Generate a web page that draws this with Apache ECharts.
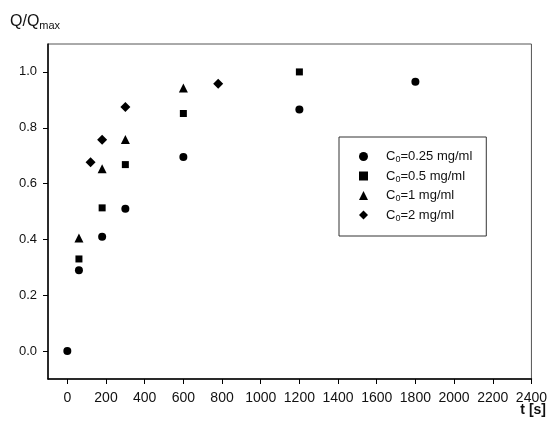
<!DOCTYPE html>
<html>
<head>
<meta charset="utf-8">
<script src="https://cdn.jsdelivr.net/npm/echarts@6/dist/echarts.min.js"></script>
<style>
html,body{margin:0;padding:0;background:#fff;}
#chart{width:550px;height:430px;}
</style>
</head>
<body>
<div id="chart"></div>
<script>
// Data (t in seconds, Q/Qmax)
const seriesNames = ['C0=0.25 mg/ml', 'C0=0.5 mg/ml', 'C0=1 mg/ml', 'C0=2 mg/ml'];
const seriesSymbols = ['circle', 'rect', 'triangle', 'diamond'];
const t025 = [0, 60, 180, 300, 600, 1200, 1800];
const q025 = [0.0, 0.29, 0.41, 0.51, 0.695, 0.865, 0.965];
const t05 = [60, 180, 300, 600, 1200];
const q05 = [0.33, 0.513, 0.668, 0.851, 1.0];
const t1 = [60, 180, 300, 600];
const q1 = [0.405, 0.653, 0.758, 0.942];
const t2 = [120, 180, 300, 780];
const q2 = [0.676, 0.757, 0.874, 0.958];
const xTicks = [0, 200, 400, 600, 800, 1000, 1200, 1400, 1600, 1800, 2000, 2200, 2400];
const yTicks = [0, 0.2, 0.4, 0.6, 0.8, 1.0];

const allT = [t025, t05, t1, t2];
const allQ = [q025, q05, q1, q2];
const symbolSizes = [8, 7, 9, 10];

const chart = echarts.init(document.getElementById('chart'), null, {renderer: 'canvas'});
const font = '"Liberation Sans", Arial, Helvetica, sans-serif';

const series = seriesNames.map((name, i) => ({
  name: name,
  type: 'scatter',
  symbol: seriesSymbols[i],
  symbolSize: symbolSizes[i],
  itemStyle: {color: '#000', opacity: 1},
  emphasis: {disabled: true},
  data: allT[i].map((t, j) => [t, allQ[i][j]])
}));

chart.setOption({
  animation: false,
  backgroundColor: '#fff',
  textStyle: {fontFamily: font},
  grid: {left: 48, right: 18, top: 44, bottom: 51, show: true, borderColor: '#555', borderWidth: 1},
  xAxis: {
    type: 'value',
    min: -100, max: 2400,
    splitLine: {show: false},
    axisLine: {onZero: false, lineStyle: {color: '#000', width: 1.5}},
    axisTick: {show: true, length: 5, inside: false, customValues: xTicks, lineStyle: {color: '#000'}},
    axisLabel: {customValues: xTicks, margin: 12, fontSize: 14, color: '#111', fontFamily: font,
      formatter: v => String(v)}
  },
  yAxis: {
    type: 'value',
    min: -0.1, max: 1.1,
    splitLine: {show: false},
    axisLine: {onZero: false, lineStyle: {color: '#000', width: 1.5}},
    axisTick: {show: true, length: 5, inside: false, customValues: yTicks, lineStyle: {color: '#000'}},
    axisLabel: {customValues: yTicks, margin: 11, fontSize: 13, color: '#111', fontFamily: font,
      formatter: v => v.toFixed(1)}
  },
  legend: {
    orient: 'vertical',
    left: 339, top: 137,
    padding: [13, 14, 13, 20],
    itemGap: 5,
    itemWidth: 9, itemHeight: 9,
    borderColor: '#333', borderWidth: 1,
    backgroundColor: '#fff',
    selectedMode: false,
    data: seriesNames.map((n, i) => ({name: n, icon: seriesSymbols[i]})),
    formatter: n => '{c|C}{s|0}{c|' + n.slice(2) + '}',
    textStyle: {
      padding: [0, 0, 0, 13],
      color: '#111',
      fontFamily: font,
      rich: {
        c: {fontSize: 13, lineHeight: 16, fontFamily: font, color: '#111'},
        s: {fontSize: 9, lineHeight: 10, verticalAlign: 'bottom', fontFamily: font, color: '#111'}
      }
    }
  },
  graphic: [
    {
      type: 'text', left: 10, top: 14,
      style: {
        text: '{q|Q/Q}{m|max}',
        rich: {
          q: {fontSize: 16, fontFamily: font, fill: '#111', lineHeight: 18},
          m: {fontSize: 11, fontFamily: font, fill: '#111', lineHeight: 12, verticalAlign: 'bottom'}
        }
      }
    },
    {
      type: 'text', right: 4, top: 403,
      style: {text: 't [s]', fontSize: 14, fontWeight: 'bold', fontFamily: font, fill: '#111'}
    }
  ],
  series: series
});
</script>
</body>
</html>
